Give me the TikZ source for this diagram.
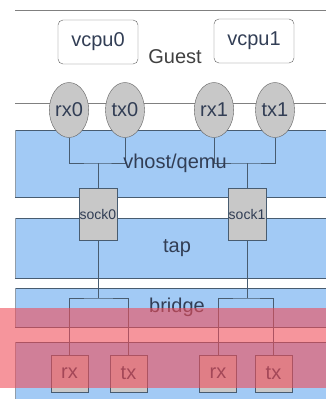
\documentclass[tikz,border=0pt]{standalone}
\usepackage{fontspec}
\setmainfont{Liberation Sans}
\usetikzlibrary{shapes.geometric}

\definecolor{bandblue}{RGB}{162,202,245}
\definecolor{bandline}{RGB}{72,92,112}
\definecolor{boxgray}{RGB}{200,200,200}
\definecolor{boxline}{RGB}{95,95,95}
\definecolor{labeltext}{RGB}{50,62,85}
\definecolor{markred}{RGB}{240,78,90}

\tikzset{
  big/.style={font=\fontsize{20}{24}\selectfont, text=labeltext},
  vcpubox/.style={draw=boxline, rounded corners=5pt, minimum width=80pt, minimum height=44pt, inner sep=0pt, big},
  queue/.style={ellipse, draw=boxline, fill=boxgray, minimum width=39pt, minimum height=55pt, inner sep=0pt, big},
  sockbox/.style={draw=bandline, fill=boxgray, minimum width=38pt, minimum height=52pt, inner sep=0pt, font=\fontsize{14}{16}\selectfont, text=labeltext},
  portbox/.style={draw=bandline, fill=boxgray, minimum width=37pt, minimum height=37pt, inner sep=0pt, big},
  wire/.style={draw=bandline, line width=0.8pt}
}

\begin{document}
\begin{tikzpicture}[x=1pt, y=-1pt]
\useasboundingbox (0,0) rectangle (326,399);

\def\xl{15}
\def\xr{326}

% bands
\def\ya{10}
\def\yb{130}
\def\yc{197}
\def\yd{218}
\def\ye{278}
\def\yf{288}
\def\yg{327}
\def\yh{342}
\def\yi{399}

\fill[bandblue] (\xl, \yb) rectangle (\xr, \yc);
\fill[bandblue] (\xl, \yd) rectangle (\xr, \ye);
\fill[bandblue] (\xl, \yf) rectangle (\xr, \yg);
\fill[bandblue] (\xl, \yh) rectangle (\xr, \yi);

\draw[gray, line width=1pt] (\xl, \ya) -- (\xr, \ya);
\draw[gray, line width=1pt] (\xl, 103) -- (\xr, 103);
\foreach \y in {\yb, \yc, \yd, \ye, \yf, \yg, \yh}
  \draw[bandline, line width=1pt] (\xl, \y) -- (\xr, \y);
\draw[bandline!60, line width=0.6pt] (\xl, \yb) -- (\xl, \yc);
\draw[bandline!60, line width=0.6pt] (\xl, \yd) -- (\xl, \ye);
\draw[bandline!60, line width=0.6pt] (\xl, \yf) -- (\xl, \yg);
\draw[bandline!60, line width=0.6pt] (\xl, \yh) -- (\xl, \yi);

% guest
\node[vcpubox] (vcpu0) at (98, 42) {vcpu0};
\node[vcpubox] (vcpu1) at (254, 41) {vcpu1};
\node[big, text=black!75] (guest) at (175, 57) {Guest};

\node[queue] (rx0) at (69, 110) {rx0};
\node[queue] (tx0) at (125, 110) {tx0};
\node[queue] (rx1) at (214, 110) {rx1};
\node[queue] (tx1) at (275, 110) {tx1};

% sockets
\node[sockbox] (sock0) at (98, 214) {sock0};
\node[sockbox] (sock1) at (247, 214) {sock1};

\coordinate (j0) at (98, 163);
\coordinate (j1) at (247, 163);

\draw[wire] (rx0.south) |- (j0) -| (tx0.south);
\draw[wire] (rx1.south) |- (j1) -| (tx1.south);
\draw[wire] (j0) -- (sock0.north);
\draw[wire] (j1) -- (sock1.north);

\node[big] (vhost) at (175, 163) {vhost/qemu};
\node[big] (tap) at (177, 248) {tap};
\node[big] (bridge) at (177, 307) {bridge};

% ports
\node[portbox] (rxa) at (69.5, 373.5) {rx};
\node[portbox] (txa) at (128.5, 373.5) {tx};
\node[portbox] (rxb) at (218, 373.5) {rx};
\node[portbox] (txb) at (273.5, 373.5) {tx};

\coordinate (b0) at (98, 298);
\coordinate (b1) at (247, 298);

\draw[wire] (sock0.south) -- (b0);
\draw[wire] (sock1.south) -- (b1);
\draw[wire] (rxa.north) |- (b0) -| (txa.north);
\draw[wire] (rxb.north) |- (b1) -| (txb.north);

% highlight
\fill[markred, opacity=0.6] (0, 308) rectangle (326, 388);

\end{tikzpicture}
\end{document}
